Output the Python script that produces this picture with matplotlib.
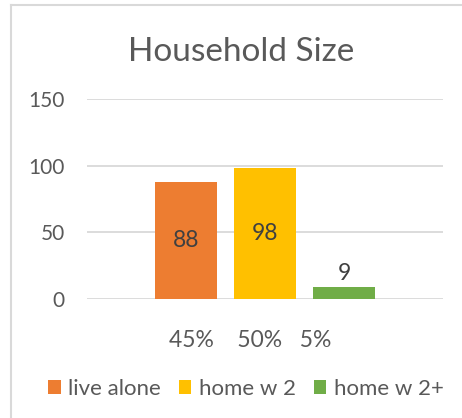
import matplotlib
matplotlib.use("Agg")
import matplotlib.pyplot as plt
from matplotlib.lines import Line2D

plt.rcParams['font.family'] = ['Lato', 'DejaVu Sans']

title = "Household Size"
series = ["live alone", "home w 2", "home w 2+"]
values = [88, 98, 9]
colors = ["#ED7D31", "#FFC000", "#70AD47"]
category_label = "45%    50%   5%     "
yticks = [0, 50, 100, 150]

W, H = 462, 418
fig = plt.figure(figsize=(W / 100, H / 100), dpi=100)
fig.patch.set_facecolor("white")

# chart area border (left and top visible)
fig.add_artist(Line2D([11 / W, 11 / W], [0, 1 - 5 / H], transform=fig.transFigure, color="#D9D9D9", lw=1.5))
fig.add_artist(Line2D([11 / W, 1], [1 - 5 / H, 1 - 5 / H], transform=fig.transFigure, color="#D9D9D9", lw=1.5))

ax = fig.add_axes([87 / W, (H - 299) / H, 356 / W, 200 / H])
ax.set_xlim(-0.5, 0.5)
ax.set_ylim(0, 150)

bw = 0.174
step = 0.222
text_color = "#595959"
label_color = "#404040"
for i, (name, v, c) in enumerate(zip(series, values, colors)):
    x = (i - 1) * step
    bars = ax.bar(x, v, width=bw, color=c, label=name, zorder=3)
    if v > 20:
        ax.bar_label(bars, labels=[str(v)], label_type="center", color=label_color, fontsize=16.5)
    else:
        ax.bar_label(bars, labels=[str(v)], padding=2, color=label_color, fontsize=16.5)

ax.set_yticks(yticks)
ax.set_yticklabels([str(t) for t in yticks])
ax.yaxis.grid(True, color="#D9D9D9", lw=1.3, zorder=0)
ax.set_axisbelow(True)
ax.tick_params(axis="y", length=0, pad=16, labelcolor=text_color, labelsize=15)
ax.set_xticks([0])
ax.set_xticklabels([category_label])
ax.tick_params(axis="x", length=0, pad=22, labelcolor=text_color, labelsize=16.5)
for s in ax.spines.values():
    s.set_visible(False)

fig.text(241.5 / W, 1 - 61 / H, title, ha="center", va="baseline", fontsize=24, color=text_color)

fig.legend(loc="center", bbox_to_anchor=(246 / W, 29 / H), ncol=3, frameon=False,
           fontsize=16, labelcolor=text_color, handlelength=0.55, handleheight=0.55,
           handletextpad=0.35, columnspacing=0.8)

fig.savefig("out.png", dpi=100)
